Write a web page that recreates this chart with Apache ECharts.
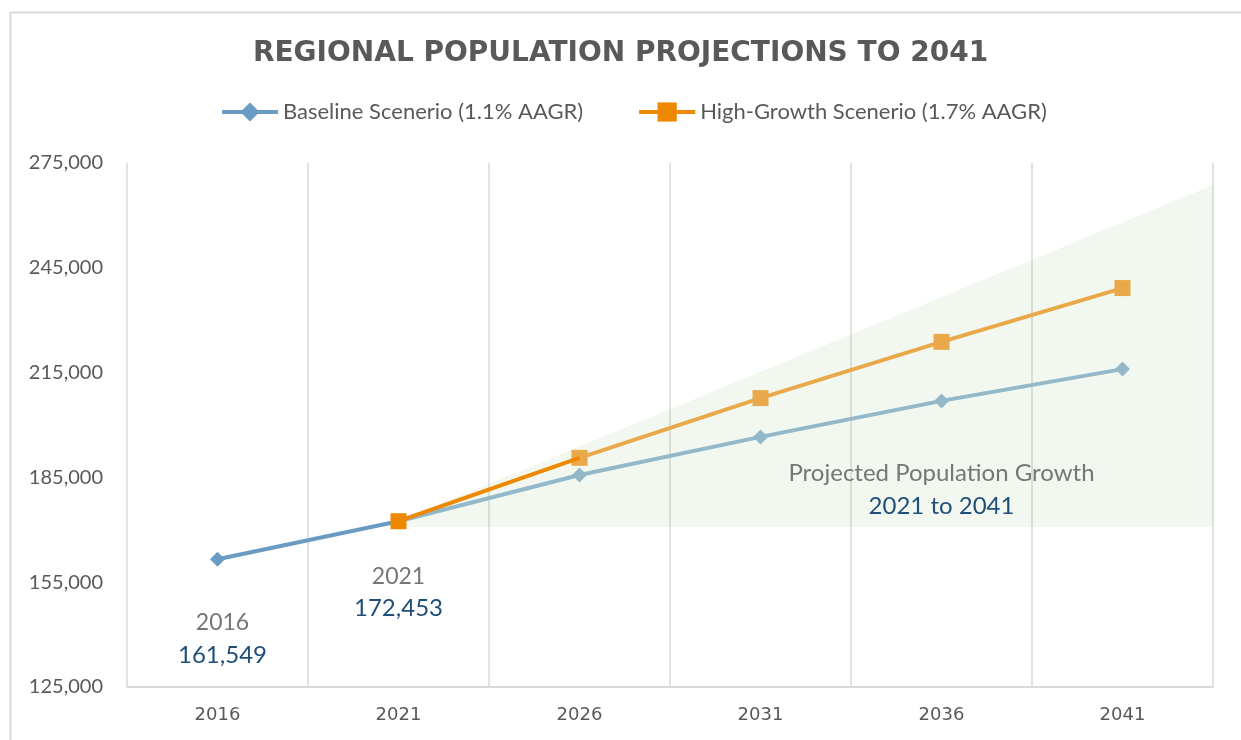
<!DOCTYPE html>
<html>
<head>
<meta charset="utf-8">
<script src="https://cdn.jsdelivr.net/npm/echarts@6/dist/echarts.min.js"></script>
<style>html,body{margin:0;padding:0;background:#fff}#c{width:1241px;height:740px}</style>
</head>
<body>
<div id="c"></div>
<script>
const years = ['2016', '2021', '2026', '2031', '2036', '2041'];
const baselineHist = [161549, 172453, null, null, null, null];
const baselineProj = [null, 172453, 185700, 196600, 206900, 216000];
const highHist = [null, 172453, 190600, null, null, null];
const highProj = [null, null, 190600, 207700, 223800, 239200];
// shaded growth region [category position (0..6 across plot), value]
const shadePoly = [[1.5, 172453], [6, 268700], [6, 170800], [1.55, 170800]];
const yTicks = { min: 125000, max: 275000, interval: 30000 };
const noteCoord = ['2036', 181540];

const chart = echarts.init(document.getElementById('c'));
const fmt = v => Number(v).toLocaleString('en-US');
const font = 'Lato, "Open Sans", sans-serif';

const annoRich = {
  y: { color: '#767676', fontSize: 23, fontFamily: font, lineHeight: 32 },
  v: { color: '#1F4E79', fontSize: 24, fontFamily: font, lineHeight: 32 },
  n: { color: '#767676', fontSize: 24, fontFamily: font, lineHeight: 33 },
  m: { color: '#1F4E79', fontSize: 24, fontFamily: font, lineHeight: 33 }
};

chart.setOption({
  animation: false,
  backgroundColor: '#ffffff',
  graphic: [{
    type: 'rect', left: 8, top: 10, silent: true,
    shape: { width: 1300, height: 800 },
    style: { fill: 'none', stroke: '#D9D9D9', lineWidth: 2 }
  }],
  title: {
    text: 'REGIONAL POPULATION PROJECTIONS TO 2041',
    left: 'center', top: 35,
    textStyle: { color: '#595959', fontSize: 28, fontWeight: 'bold', fontFamily: 'DejaVu Sans, sans-serif' }
  },
  legend: {
    data: ['Baseline Scenerio (1.1% AAGR)', 'High-Growth Scenerio (1.7% AAGR)'],
    left: 215, top: 96,
    itemWidth: 56, itemHeight: 24, itemGap: 54,
    lineStyle: { width: 4 },
    textStyle: { color: '#595959', fontSize: 22, fontFamily: font }
  },
  grid: { left: 127, right: 28, top: 163, bottom: 53, containLabel: false },
  xAxis: [{
    type: 'category', data: years, boundaryGap: true,
    axisLine: { lineStyle: { color: '#D9D9D9', width: 2 } },
    axisTick: { show: false },
    splitLine: { show: true, lineStyle: { color: '#D9D9D9', width: 1.5 } },
    axisLabel: { color: '#595959', fontSize: 18, fontFamily: 'DejaVu Sans, sans-serif', margin: 19 }
  }, {
    type: 'value', min: 0, max: 6, show: false
  }],
  yAxis: {
    type: 'value', min: yTicks.min, max: yTicks.max, interval: yTicks.interval,
    axisLine: { show: false }, axisTick: { show: false },
    splitLine: { show: false },
    axisLabel: { color: '#595959', fontSize: 20, fontFamily: font, margin: 24, formatter: fmt }
  },
  series: [
    {
      name: 'shade', type: 'custom', xAxisIndex: 1, z: 1, silent: true,
      data: [[0, 0]],
      renderItem: function (params, api) {
        const pts = shadePoly.map(p => api.coord(p));
        return { type: 'polygon', shape: { points: pts }, style: { fill: 'rgba(140,190,110,0.11)' } };
      }
    },
    {
      name: 'Baseline projected', type: 'line', z: 3,
      data: baselineProj.map((v, i) => i === 1 ? { value: v, symbol: 'none' } : v),
      symbol: 'diamond', symbolSize: 15,
      lineStyle: { color: '#93B8CA', width: 4 },
      itemStyle: { color: '#93B8CA' },
      markPoint: {
        symbol: 'rect', symbolSize: 1, itemStyle: { color: 'rgba(0,0,0,0)' },
        label: {
          show: true, position: 'inside',
          formatter: '{n|Projected Population Growth}\n{m|2021 to 2041}',
          rich: annoRich
        },
        data: [{ coord: noteCoord }]
      }
    },
    {
      name: 'Baseline Scenerio (1.1% AAGR)', type: 'line', z: 4,
      data: baselineHist.map((v, i) => {
        if (i === 0) return { value: v, label: { show: true, position: 'bottom', distance: 40, offset: [5, 0], formatter: '{y|' + years[0] + '}\n{v|' + fmt(v) + '}', rich: annoRich } };
        if (i === 1) return { value: v, label: { show: true, position: 'bottom', distance: 32, formatter: '{y|' + years[1] + '}\n{v|' + fmt(v) + '}', rich: annoRich } };
        return v;
      }),
      symbol: 'diamond', symbolSize: 15,
      lineStyle: { color: '#6A9BC3', width: 4 },
      itemStyle: { color: '#6A9BC3' }
    },
    {
      name: 'High-growth projected', type: 'line', z: 5,
      data: highProj,
      symbol: 'rect', symbolSize: 16,
      lineStyle: { color: '#E9A94B', width: 4 },
      itemStyle: { color: '#E9A94B' }
    },
    {
      name: 'High-Growth Scenerio (1.7% AAGR)', type: 'line', z: 6,
      data: highHist.map((v, i) => i === 2 ? { value: v, symbol: 'none' } : v),
      symbol: 'rect', symbolSize: 16,
      lineStyle: { color: '#ED8800', width: 4 },
      itemStyle: { color: '#ED8800' }
    }
  ]
});
</script>
</body>
</html>
